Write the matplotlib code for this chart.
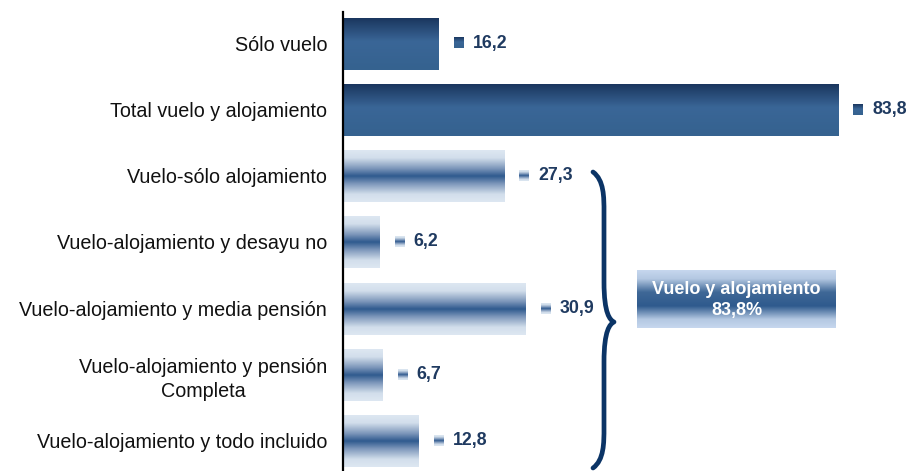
import numpy as np
import matplotlib.pyplot as plt
from matplotlib.colors import LinearSegmentedColormap
from matplotlib.path import Path
from matplotlib.patches import PathPatch

plt.rcParams['font.family'] = ['Liberation Sans', 'DejaVu Sans']

categories = [
    "Sólo vuelo",
    "Total vuelo y alojamiento",
    "Vuelo-sólo alojamiento",
    "Vuelo-alojamiento y desayu no",
    "Vuelo-alojamiento y media pensión",
    "Vuelo-alojamiento y pensión\nCompleta",
    "Vuelo-alojamiento y todo incluido",
]
values = [16.2, 83.8, 27.3, 6.2, 30.9, 6.7, 12.8]
value_labels = ["16,2", "83,8", "27,3", "6,2", "30,9", "6,7", "12,8"]
solid_rows = [0, 1]
box_lines = ["Vuelo y alojamiento", "83,8%"]

# colour ramps (top -> bottom)
solid_cmap = LinearSegmentedColormap.from_list(
    "solid", [(0, "#1a365e"), (0.45, "#3a6697"), (1, "#35628f")])
fade_cmap = LinearSegmentedColormap.from_list(
    "fade", [(0, "#dde7f2"), (0.15, "#d2deeb"), (0.35, "#7e98bb"),
             (0.5, "#2f5a8e"), (0.65, "#7e98bb"), (0.85, "#d2deeb"), (1, "#dde7f2")])
box_cmap = LinearSegmentedColormap.from_list(
    "box", [(0, "#c6d7ee"), (0.15, "#b4c8e2"), (0.38, "#3f6897"),
            (0.62, "#2f5a8d"), (0.85, "#b4c8e2"), (1, "#c6d7ee")])
grad = np.linspace(0, 1, 256).reshape(-1, 1)

W, H = 910, 471
fig = plt.figure(figsize=(W / 100, H / 100), dpi=100)
ax = fig.add_axes([343 / W, 0, 567 / W, 1 - 12 / H])
XMAX = 567 / 5.91
YLIM = (6.455, -0.468)

y = np.arange(len(categories))
bars = ax.barh(y + 0.01, values, height=0.78, color="none", edgecolor="none")

for i, b in enumerate(bars):
    x0, y0, w, h = b.get_x(), b.get_y(), b.get_width(), b.get_height()
    cmap = solid_cmap if i in solid_rows else fade_cmap
    ax.imshow(grad, cmap=cmap, aspect="auto", extent=[x0, x0 + w, y0 + h, y0],
              interpolation="bilinear", zorder=2)

# value labels with small key squares
px = 1 / 5.91
for i, (v, lab) in enumerate(zip(values, value_labels)):
    cmap = solid_cmap if i in solid_rows else fade_cmap
    mx = v + 15 * px
    ax.imshow(grad, cmap=cmap, aspect="auto",
              extent=[mx, mx + 10 * px, y[i] + 0.08, y[i] - 0.08],
              interpolation="bilinear", zorder=3)
    ax.text(v + 34 * px, y[i], lab, va="center", ha="left", fontsize=12.8,
            fontweight="bold", color="#1f3a60")

ax.set_xlim(0, XMAX)
ax.set_ylim(*YLIM)

ax.set_yticks(y)
ticklabels = ax.set_yticklabels(categories, fontsize=14.2, color="#111111")
for t in ticklabels:
    t.set_multialignment("center")
    t.set_linespacing(1.35)
ax.tick_params(axis="y", length=0, pad=11.5)
ax.set_xticks([])
for s in ["top", "right", "bottom"]:
    ax.spines[s].set_visible(False)
ax.spines["left"].set_linewidth(1.6)
ax.spines["left"].set_color("black")

# overlay in pixel coordinates for brace and box
ov = fig.add_axes([0, 0, 1, 1], facecolor="none")
ov.axis("off")

top, tip, bot = 172, 322, 468
xe, xv, xt = 593, 604, 614
verts = [
    (xe, top),
    (xv, top + 8), (xv, top + 25), (xv, top + 40),
    (xv, tip - 40),
    (xv, tip - 8), (xt - 4, tip - 2), (xt, tip),
    (xt - 4, tip + 2), (xv, tip + 8), (xv, tip + 40),
    (xv, bot - 40),
    (xv, bot - 25), (xv, bot - 8), (xe, bot),
]
codes = [Path.MOVETO,
         Path.CURVE4, Path.CURVE4, Path.CURVE4,
         Path.LINETO,
         Path.CURVE4, Path.CURVE4, Path.CURVE4,
         Path.CURVE4, Path.CURVE4, Path.CURVE4,
         Path.LINETO,
         Path.CURVE4, Path.CURVE4, Path.CURVE4]
ov.add_patch(PathPatch(Path(verts, codes), fill=False, edgecolor="#0b3466",
                       linewidth=3.4, capstyle="round", joinstyle="round"))

bx0, bx1, by0, by1 = 637, 836, 270, 328
ov.imshow(grad, cmap=box_cmap, aspect="auto", extent=[bx0, bx1, by1, by0],
          interpolation="bilinear")
ov.set_xlim(0, W)
ov.set_ylim(H, 0)
ov.text((bx0 + bx1) / 2, 289, box_lines[0], ha="center", va="center",
        fontsize=13, fontweight="bold", color="white")
ov.text((bx0 + bx1) / 2, 311, box_lines[1], ha="center", va="center",
        fontsize=13, fontweight="bold", color="white")

fig.savefig("out.png", dpi=100)
